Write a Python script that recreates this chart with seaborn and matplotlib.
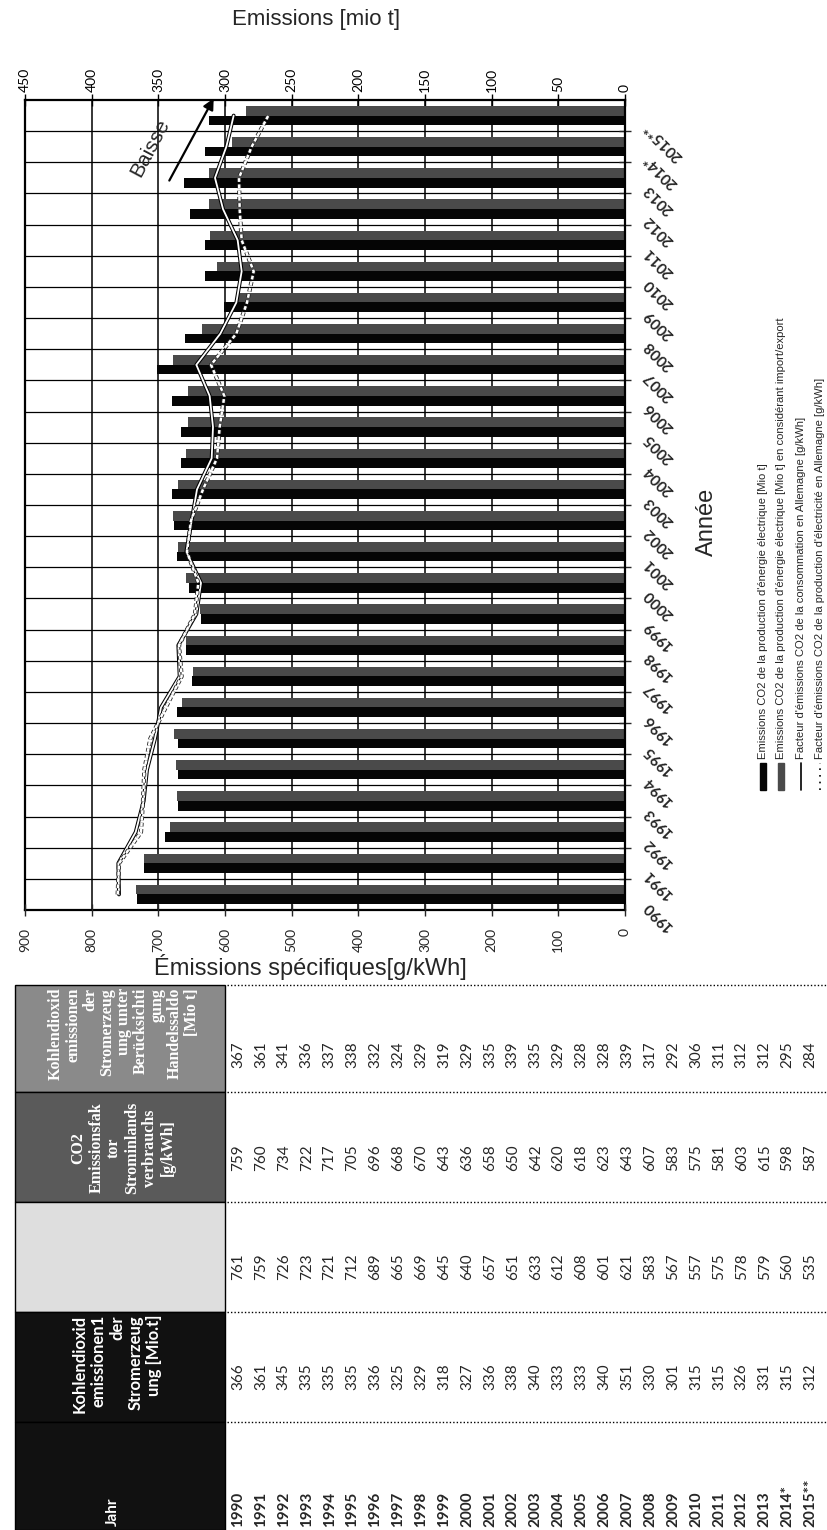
import numpy as np
import pandas as pd
import matplotlib
matplotlib.use("Agg")
import matplotlib.pyplot as plt
import matplotlib.transforms as mtransforms
from matplotlib import patheffects as pe
from matplotlib.patches import Rectangle, FancyArrowPatch
from matplotlib.lines import Line2D
import seaborn as sns

# ---------------- data ----------------
years = ["1990", "1991", "1992", "1993", "1994", "1995", "1996", "1997", "1998",
         "1999", "2000", "2001", "2002", "2003", "2004", "2005", "2006", "2007",
         "2008", "2009", "2010", "2011", "2012", "2013", "2014*", "2015**"]
co2_production = [366, 361, 345, 335, 335, 335, 336, 325, 329, 318, 327, 336, 338,
                  340, 333, 333, 340, 351, 330, 301, 315, 315, 326, 331, 315, 312]
factor_production = [761, 759, 726, 723, 721, 712, 689, 665, 669, 645, 640, 657, 651,
                     633, 612, 608, 601, 621, 583, 567, 557, 575, 578, 579, 560, 535]
factor_consumption = [759, 760, 734, 722, 717, 705, 696, 668, 670, 643, 636, 658, 650,
                      642, 620, 618, 623, 643, 607, 583, 575, 581, 603, 615, 598, 587]
co2_trade = [367, 361, 341, 336, 337, 338, 332, 324, 329, 319, 329, 335, 339,
             335, 329, 328, 328, 339, 317, 292, 306, 311, 312, 312, 295, 284]

mio_ticks = list(range(0, 451, 50))
gkwh_ticks = list(range(0, 901, 100))

legend_labels = [
    "Emissions CO2 de la production d'énergie électrique [Mio t]",
    "Emissions CO2 de la production d'énergie électrique [Mio t] en considérant import/export",
    "Facteur d'émissions CO2 de la consommation en Allemagne [g/kWh]",
    "Facteur d'émissions CO2 de la production d'électricité en Allemagne [g/kWh]",
]

header_trade = "Kohlendioxid\nemissionen\nder\nStromerzeug\nung unter\nBerücksichti\ngung\nHandelssaldo\n[Mio t]"
header_factor = "CO2\nEmissionsfak\ntor\nStrominlands\nverbrauchs\n[g/kWh]"
header_co2 = "Kohlendioxid\nemissionen1\nder\nStromerzeug\nung [Mio.t]"
header_year = "Jahr"

# ---------------- style ----------------
sns.set_style("white")
plt.rcParams["font.family"] = ["Liberation Sans", "DejaVu Sans"]

W, H = 827, 1530
fig = plt.figure(figsize=(W / 100, H / 100), dpi=100)


def fx(px):
    return px / W


def fy(py):
    return 1 - py / H


n = len(years)
order = years[::-1]

ax = fig.add_axes([fx(25), fy(910), fx(625) - fx(25), fy(100) - fy(910)])

df = pd.DataFrame({
    "annee": years * 2,
    "valeur": co2_trade + co2_production,
    "serie": ["trade"] * n + ["prod"] * n,
})
sns.barplot(data=df, y="annee", x="valeur", hue="serie", order=order,
            hue_order=["trade", "prod"],
            palette={"trade": "#4a4a4a", "prod": "#050505"},
            orient="h", width=0.62, saturation=1, linewidth=0,
            legend=False, ax=ax)

# lines on the g/kWh axis
ax2 = ax.twiny()
pos = [order.index(y) for y in years]
ldf = pd.DataFrame({"pos": pos, "cons": factor_consumption, "prod": factor_production})
sns.lineplot(data=ldf, x="cons", y="pos", orient="y", sort=False, ax=ax2,
             color="white", lw=1.3,
             path_effects=[pe.Stroke(linewidth=2.8, foreground="black"), pe.Normal()])
sns.lineplot(data=ldf, x="prod", y="pos", orient="y", sort=False, ax=ax2,
             color="white", lw=1.8, linestyle=(0, (1.5, 1.0)),
             path_effects=[pe.Stroke(linewidth=3.0, foreground="#222222"), pe.Normal()])
ax2.set_xlim(900, 0)
ax2.xaxis.tick_bottom()
ax2.xaxis.set_label_position("bottom")
ax2.set_xticks(gkwh_ticks)
ax2.set_xticklabels([str(v) for v in gkwh_ticks], rotation=90, fontsize=10,
                    family="Lato")
ax2.tick_params(axis="x", direction="inout", length=8, width=1, pad=9,
                top=False, bottom=True, labeltop=False, labelbottom=True)
ax2.set_xlabel("")
ax2.set_ylabel("")
for s in ax2.spines.values():
    s.set_visible(False)

# bar axis: Mio t on top
ax.set_xlim(450, 0)
ax.xaxis.tick_top()
ax.xaxis.set_label_position("top")
ax.set_xticks(mio_ticks)
ax.set_xticklabels([str(v) for v in mio_ticks], rotation=90, fontsize=10,
                   family="Lato")
ax.tick_params(axis="x", direction="inout", length=8, width=1, pad=2, top=True,
               bottom=False, labeltop=True, labelbottom=False, colors="black")
ax.set_xlabel("")
ax.set_ylabel("")
ax.set_yticks(range(n))
ax.set_yticklabels([])
ax.tick_params(axis="y", which="major", length=0)
ax.set_yticks(np.arange(n - 1) + 0.5, minor=True)
ax.tick_params(axis="y", which="minor", right=True, left=False, length=8,
               direction="inout", width=1)
ax.grid(True, axis="x", which="major", color="black", lw=1.1)
ax.grid(True, axis="y", which="minor", color="black", lw=0.9)
ax.set_axisbelow(True)
for s in ax.spines.values():
    s.set_color("black")
    s.set_linewidth(1.6)
ax.set_ylim(n - 0.5, -0.5)

# year labels on the right
trans = mtransforms.blended_transform_factory(ax.transAxes, ax.transData) + \
    mtransforms.ScaledTranslation(0.21, -0.09, fig.dpi_scale_trans)
for i, lab in enumerate(order):
    ax.text(1.0, i, lab, transform=trans, rotation=135, rotation_mode="anchor",
            ha="right", va="center", fontsize=11, fontweight="bold", family="Lato")

# titles
fig.text(fx(316), fy(20), "Emissions [mio t]", fontsize=16, ha="center", va="center")
fig.text(fx(310), fy(967), "Émissions spécifiques[g/kWh]", fontsize=17,
         ha="center", va="center")
fig.text(fx(707), fy(522), "Année", fontsize=17, rotation=90, ha="center", va="center")

# "Baisse" arrow
fig.add_artist(FancyArrowPatch((fx(168), fy(183)), (fx(215), fy(96)),
                               transform=fig.transFigure, arrowstyle="-|>",
                               mutation_scale=16, lw=1.6, color="black"))
fig.text(fx(150), fy(148), "Baisse", fontsize=15, rotation=62, ha="center",
         va="center")

# legend (rotated)
leg_x = [763, 781, 801, 820]
for k, (x, lab) in enumerate(zip(leg_x, legend_labels)):
    if k == 0:
        fig.add_artist(Rectangle((fx(x - 3), fy(790)), fx(6), fy(763) - fy(790),
                                 transform=fig.transFigure, color="#050505"))
    elif k == 1:
        fig.add_artist(Rectangle((fx(x - 3), fy(790)), fx(6), fy(763) - fy(790),
                                 transform=fig.transFigure, color="#4a4a4a"))
    elif k == 2:
        fig.add_artist(Line2D([fx(x), fx(x)], [fy(790), fy(763)],
                              transform=fig.transFigure, color="black", lw=1.2))
    else:
        fig.add_artist(Line2D([fx(x), fx(x)], [fy(790), fy(763)],
                              transform=fig.transFigure, color="black", lw=1.2,
                              linestyle=(0, (1, 3))))
    fig.text(fx(x), fy(759), lab, rotation=90, ha="center", va="bottom",
             fontsize=8.1)

# ---------------- table (rotated) ----------------
band_top = [985, 1092, 1202, 1312, 1422]
band_bot = [1092, 1202, 1312, 1422, 1530]
header_colors = ["#8a8a8a", "#5a5a5a", "#dedede", "#111111", "#111111"]
for k in range(5):
    fig.add_artist(Rectangle((fx(15), fy(band_bot[k])), fx(225) - fx(15),
                             fy(band_top[k]) - fy(band_bot[k]),
                             transform=fig.transFigure, facecolor=header_colors[k],
                             edgecolor="black", lw=1.0))
    fig.add_artist(Line2D([fx(227), fx(827)], [fy(band_top[k]), fy(band_top[k])],
                          transform=fig.transFigure, color="black", lw=1.0,
                          linestyle=(0, (1, 1.5))))

fig.text(fx(124), fy(988), header_trade, rotation=90, ha="center", va="top",
         fontsize=11.5, color="white", fontweight="bold", family="Liberation Serif",
         multialignment="right", linespacing=1.08)
fig.text(fx(123), fy(1148), header_factor, rotation=90, ha="center", va="center",
         fontsize=11.5, color="white", fontweight="bold", family="Liberation Serif",
         multialignment="center", linespacing=1.15)
fig.text(fx(117), fy(1315), header_co2, rotation=90, ha="center", va="top",
         fontsize=12, color="white", fontweight="bold", family="Lato",
         multialignment="right", linespacing=1.2)
fig.text(fx(113), fy(1512), header_year, rotation=90, ha="center", va="center",
         fontsize=11, color="white", fontweight="bold", family="Lato")

col_x0, col_dx = 238, 22.9
rows = [(co2_trade, 1055), (factor_consumption, 1158), (factor_production, 1267),
        (co2_production, 1377)]
for vals, yc in rows:
    for i, v in enumerate(vals):
        fig.text(fx(col_x0 + i * col_dx), fy(yc), str(v), rotation=90,
                 ha="center", va="center", fontsize=11, family="Lato")
for i, yr in enumerate(years):
    fig.text(fx(col_x0 + i * col_dx), fy(1527), yr, rotation=90,
             ha="center", va="bottom", fontsize=11, family="Lato",
             fontweight="bold")

fig.savefig("out.png", dpi=100)
